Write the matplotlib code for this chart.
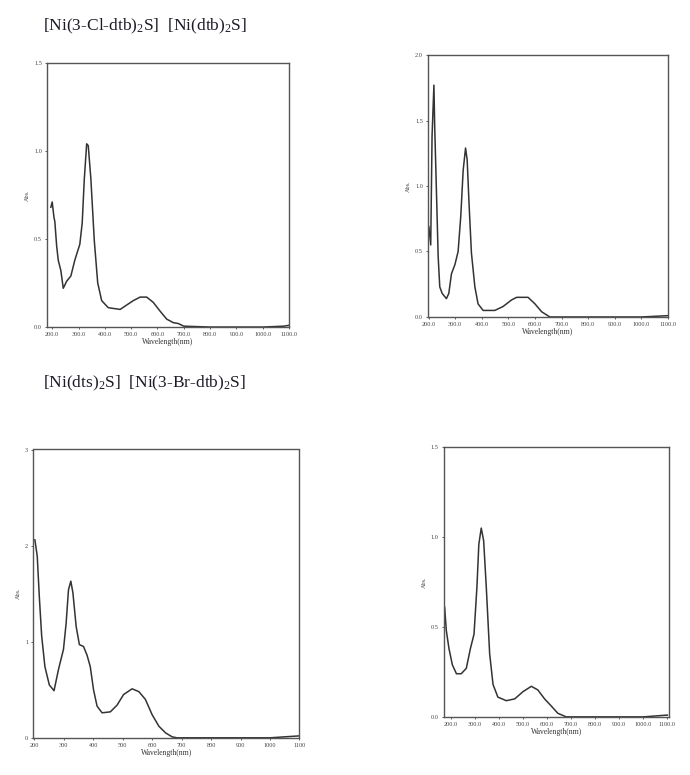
import matplotlib.pyplot as plt
from matplotlib.ticker import FormatStrFormatter

plt.rcParams['font.family'] = ['Liberation Serif', 'DejaVu Serif']
plt.rcParams['mathtext.default'] = 'regular'

# UV-Vis spectra, wavelength (nm) vs absorbance
wl_cl = [195, 200, 207, 210, 217, 223, 233, 242, 255, 271, 286, 305, 314, 322,
         331, 337, 347, 360, 373, 388, 413, 458, 483, 508, 534, 559, 584, 610,
         635, 660, 679, 700, 800, 900, 1000, 1080, 1100]
abs_cl = [0.68, 0.71, 0.62, 0.60, 0.46, 0.38, 0.32, 0.22, 0.26, 0.29, 0.38,
          0.47, 0.59, 0.84, 1.04, 1.03, 0.84, 0.49, 0.25, 0.15, 0.11, 0.10,
          0.125, 0.15, 0.17, 0.17, 0.14, 0.09, 0.045, 0.025, 0.02, 0.005,
          0.0, 0.0, 0.0, 0.005, 0.01]

wl_dtb = [201, 208, 213, 220, 223, 230, 236, 242, 251, 267, 276, 286, 299, 311,
          321, 330, 339, 345, 352, 361, 374, 386, 405, 449, 480, 512, 531, 574,
          600, 625, 656, 800, 1000, 1100]
abs_dtb = [0.69, 0.55, 1.38, 1.77, 1.45, 0.92, 0.46, 0.23, 0.18, 0.14, 0.18,
           0.33, 0.40, 0.50, 0.77, 1.12, 1.29, 1.20, 0.87, 0.49, 0.23, 0.10,
           0.05, 0.05, 0.08, 0.13, 0.15, 0.15, 0.10, 0.04, 0.0, 0.0, 0.0, 0.01]

wl_dts = [202, 210, 217, 225, 236, 251, 267, 282, 299, 308, 316, 324, 331, 342,
          353, 367, 379, 390, 401, 413, 430, 458, 481, 503, 532, 555, 577, 600,
          623, 646, 668, 684, 800, 1000, 1100]
abs_dts = [2.06, 1.89, 1.47, 1.06, 0.74, 0.55, 0.49, 0.71, 0.92, 1.19, 1.54,
           1.63, 1.51, 1.16, 0.97, 0.95, 0.86, 0.74, 0.50, 0.33, 0.26, 0.27,
           0.34, 0.45, 0.51, 0.48, 0.40, 0.24, 0.12, 0.05, 0.01, 0.0, 0.0,
           0.0, 0.02]

wl_br = [175, 182, 193, 207, 224, 244, 265, 282, 297, 309, 317, 327, 337, 348,
         362, 376, 396, 431, 466, 500, 535, 562, 590, 618, 645, 680, 800, 1000,
         1100]
abs_br = [0.61, 0.48, 0.38, 0.29, 0.24, 0.24, 0.27, 0.38, 0.46, 0.72, 0.96,
          1.05, 0.98, 0.72, 0.35, 0.18, 0.11, 0.09, 0.10, 0.14, 0.17, 0.15,
          0.10, 0.06, 0.02, 0.0, 0.0, 0.0, 0.01]

x_ticks = [200, 300, 400, 500, 600, 700, 800, 900, 1000, 1100]

fig = plt.figure(figsize=(6.9, 7.75), dpi=100)

panels = [
    ([0.068, 0.578, 0.351, 0.341], wl_cl, abs_cl, (180, 1100), (0, 1.5),
     [0, 0.5, 1.0, 1.5], '%.1f', '%.1f'),
    ([0.620, 0.591, 0.348, 0.338], wl_dtb, abs_dtb, (197, 1100), (0, 2.0),
     [0, 0.5, 1.0, 1.5, 2.0], '%.1f', '%.1f'),
    ([0.048, 0.048, 0.386, 0.372], wl_dts, abs_dts, (196, 1100), (0, 3),
     [0, 1, 2, 3], '%d', '%d'),
    ([0.643, 0.075, 0.326, 0.348], wl_br, abs_br, (171, 1105), (0, 1.5),
     [0, 0.5, 1.0, 1.5], '%.1f', '%.1f'),
]

for rect, x, y, xlim, ylim, yticks, xfmt, yfmt in panels:
    ax = fig.add_axes(rect)
    ax.plot(x, y, color='#333333', lw=1.1, solid_joinstyle='round')
    ax.set_xlim(*xlim)
    ax.set_ylim(*ylim)
    ax.set_xticks(x_ticks)
    ax.set_yticks(yticks)
    ax.xaxis.set_major_formatter(FormatStrFormatter(xfmt))
    ax.yaxis.set_major_formatter(FormatStrFormatter(yfmt))
    ax.tick_params(labelsize=4.5, length=1.5, width=0.6, pad=2,
                   colors='#444444')
    for s in ax.spines.values():
        s.set_color('#555555')
        s.set_linewidth(1.0)
    ax.set_xlabel('Wavelength(nm)', fontsize=5.5, labelpad=1, color='#333333')
    ax.set_ylabel('Abs.', fontsize=4.5, labelpad=3, color='#444444')

fig.text(0.062, 0.966, r'[Ni(3-Cl-dtb)$_2$S]  [Ni(dtb)$_2$S]',
         fontsize=12.5, color='#1c1c28', va='center')
fig.text(0.062, 0.505, r'[Ni(dts)$_2$S]  [Ni(3-Br-dtb)$_2$S]',
         fontsize=12.5, color='#1c1c28', va='center')

fig.savefig('out.png', dpi=100, facecolor='white')
